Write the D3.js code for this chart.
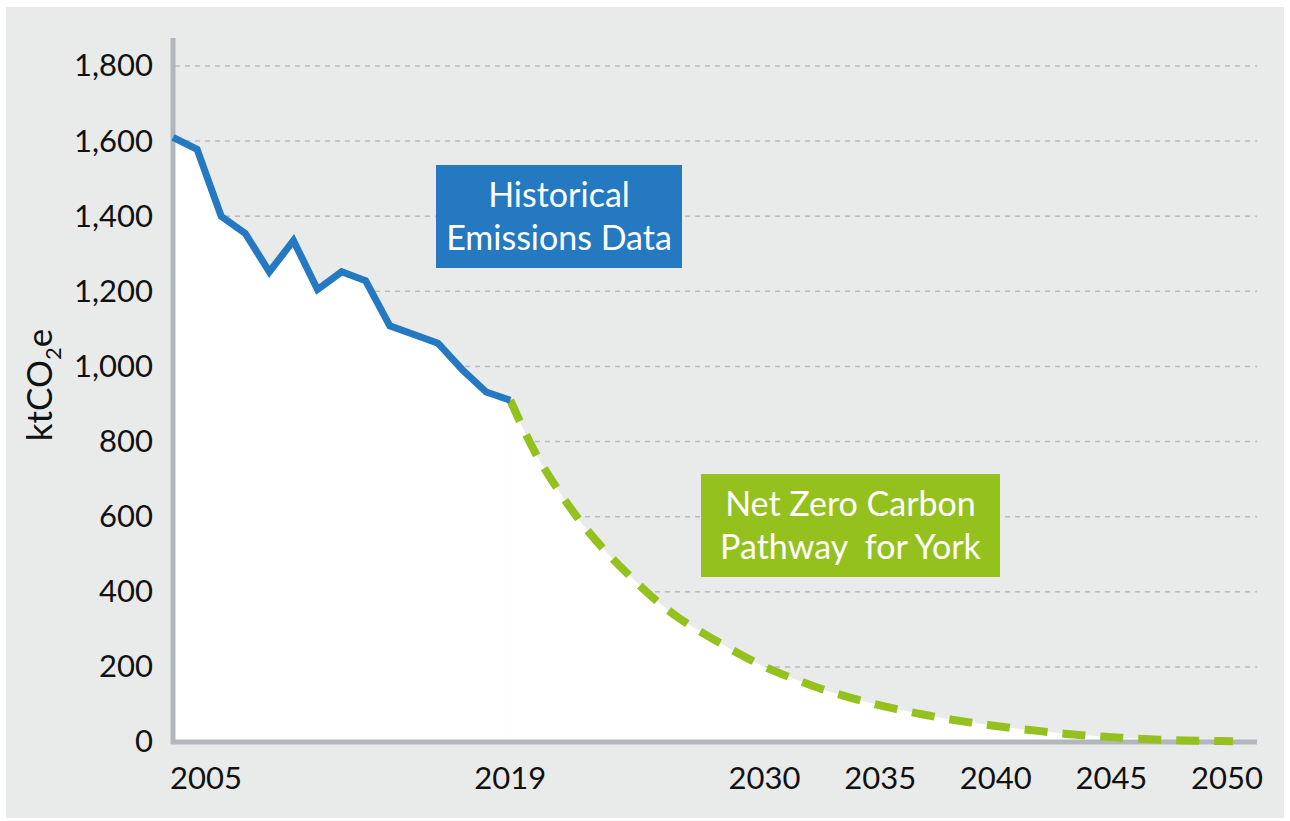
<!DOCTYPE html>
<html lang="en">
  <head>
    <meta charset="UTF-8" />
    <title>York emissions pathway</title>
    <style>
      body { margin: 0; background: #fff; }
      text { font-family: "Lato", "Open Sans", sans-serif; }
    </style>
  </head>
  <body>
    <svg id="svg" width="1290" height="821"></svg>

    <script src="https://d3js.org/d3.v7.min.js"></script>
    <script>
      // historical emissions, ktCO2e
      const histYears = d3.range(2005, 2020);
      const histValues = [1610, 1578, 1400, 1354, 1252, 1335, 1205, 1252, 1228, 1108, 1085, 1062, 992, 932, 910];

      // net zero pathway, ktCO2e
      const pathYears = d3.range(2019, 2050);
      const pathValues = [910, 775, 670, 580, 505, 440, 380, 330, 290, 253, 218, 188, 163, 140, 120, 103, 88, 75, 63, 53, 44, 36, 29, 22, 17, 13, 9, 6, 4, 3, 2];

      const yTicks = [0, 200, 400, 600, 800, 1000, 1200, 1400, 1600, 1800];
      const xTickYears = [2005, 2019, 2030, 2035, 2040, 2045, 2050];

      const hist = histYears.map((y, i) => ({ year: y, value: histValues[i] }));
      const path = pathYears.map((y, i) => ({ year: y, value: pathValues[i] }));

      const svg = d3.select("#svg");

      svg.append("rect")
        .attr("x", 6).attr("y", 7)
        .attr("width", 1278).attr("height", 811)
        .attr("fill", "#e9ebea");

      const xScale = d3.scaleLinear().domain([2005, 2050]).range([173, 1257]);
      const yScale = d3.scaleLinear().domain([0, 1800]).range([742, 66]);
      // tick labels sit a little left of their years in the original
      const xLabel = d3.scaleLinear().domain([2019, 2050]).range([xScale(2019), xScale(2050) - 30]);

      // gridlines
      svg.append("g")
        .selectAll("line")
        .data(yTicks.filter((d) => d > 0))
        .enter()
        .append("line")
        .attr("x1", 175).attr("x2", 1257)
        .attr("y1", (d) => yScale(d)).attr("y2", (d) => yScale(d))
        .attr("stroke", "#b7bbc1")
        .attr("stroke-width", 1.5)
        .attr("stroke-dasharray", "5,5");

      // white area under the curves
      const histArea = d3.area()
        .x((d) => xScale(d.year))
        .y0(yScale(0))
        .y1((d) => yScale(d.value));
      const pathArea = d3.area()
        .curve(d3.curveMonotoneX)
        .x((d) => xScale(d.year))
        .y0(yScale(0))
        .y1((d) => yScale(d.value));

      svg.append("path").datum(hist).attr("d", histArea).attr("fill", "#fff");
      svg.append("path").datum(path).attr("d", pathArea).attr("fill", "#fff");

      // axes lines
      svg.append("line")
        .attr("x1", 173).attr("x2", 173)
        .attr("y1", 38).attr("y2", 744)
        .attr("stroke", "#b2b7be").attr("stroke-width", 5);
      svg.append("line")
        .attr("x1", 171).attr("x2", 1257)
        .attr("y1", 742).attr("y2", 742)
        .attr("stroke", "#b2b7be").attr("stroke-width", 5);

      // y tick labels
      const yAxis = d3.axisLeft(yScale)
        .tickValues(yTicks)
        .tickSize(0)
        .tickPadding(0)
        .tickFormat(d3.format(","));
      const yg = svg.append("g").attr("transform", "translate(153,0)").call(yAxis);
      yg.select(".domain").remove();
      yg.selectAll("text")
        .attr("font-family", "Lato, sans-serif")
        .attr("font-size", 31)
        .attr("fill", "#111");

      // x tick labels
      svg.append("g")
        .selectAll("text")
        .data(xTickYears)
        .enter()
        .append("text")
        .attr("x", (d) => (d === 2005 ? xScale(d) - 3 : xLabel(d)))
        .attr("y", 789)
        .attr("text-anchor", (d) => (d === 2005 ? "start" : "middle"))
        .attr("font-size", 31)
        .attr("fill", "#111")
        .text((d) => d);

      // y title
      const title = svg.append("text")
        .attr("transform", "translate(52,385) rotate(-90)")
        .attr("text-anchor", "middle")
        .attr("font-size", 35)
        .attr("fill", "#111");
      title.append("tspan").text("ktCO");
      title.append("tspan").attr("font-size", 22).attr("dy", 9).text("2");
      title.append("tspan").attr("dy", -9).text("e");

      // lines
      svg.append("path")
        .datum(path)
        .attr("d", d3.line().curve(d3.curveMonotoneX).x((d) => xScale(d.year)).y((d) => yScale(d.value)))
        .attr("fill", "none")
        .attr("stroke", "#95c11f")
        .attr("stroke-width", 8)
        .attr("stroke-dasharray", "23,15");

      svg.append("path")
        .datum(hist)
        .attr("d", d3.line().x((d) => xScale(d.year)).y((d) => yScale(d.value)))
        .attr("fill", "none")
        .attr("stroke", "#2479c1")
        .attr("stroke-width", 7)
        .attr("stroke-linejoin", "miter");

      // annotation boxes
      const notes = [
        { x: 436, y: 165, w: 246, h: 103, fill: "#2479c1", lines: ["Historical", "Emissions Data"] },
        { x: 701, y: 474, w: 299, h: 103, fill: "#95c11f", lines: ["Net Zero Carbon", "Pathway\u00a0 for York"] },
      ];
      notes.forEach((n) => {
        svg.append("rect")
          .attr("x", n.x).attr("y", n.y)
          .attr("width", n.w).attr("height", n.h)
          .attr("fill", n.fill);
        svg.append("g")
          .selectAll("text")
          .data(n.lines)
          .enter()
          .append("text")
          .attr("x", n.x + n.w / 2)
          .attr("y", (d, i) => n.y + 42 + i * 43)
          .attr("text-anchor", "middle")
          .attr("font-size", 34)
          .attr("fill", "#fff")
          .text((d) => d);
      });
    </script>
  </body>
</html>
